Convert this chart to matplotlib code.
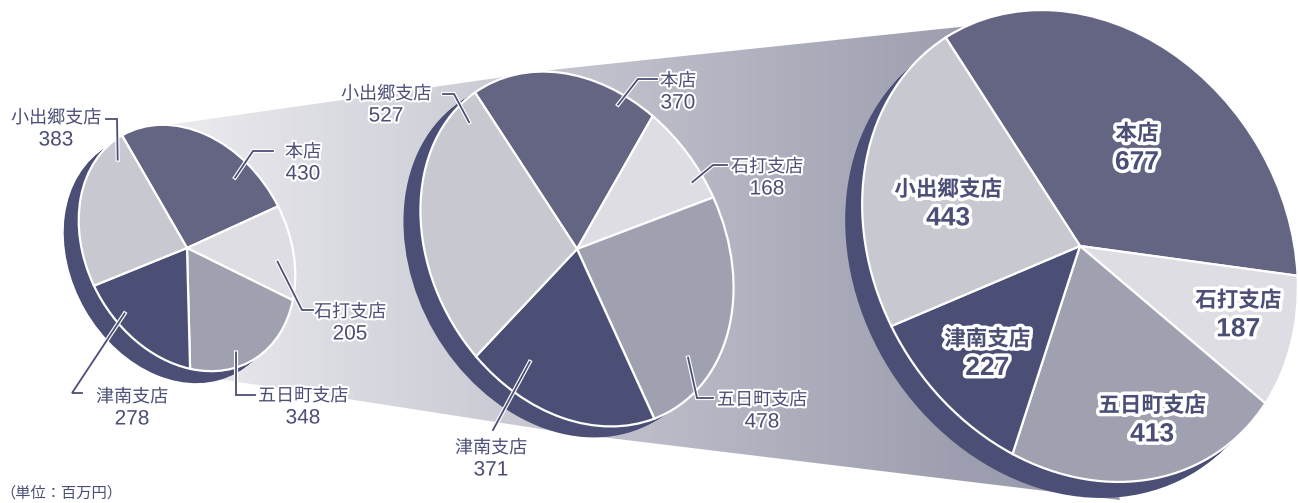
import numpy as np
import matplotlib
matplotlib.use("Agg")
import matplotlib.pyplot as plt
import matplotlib.patheffects as pe
from matplotlib.patches import Polygon, Circle
from matplotlib.transforms import Affine2D
from matplotlib.colors import LinearSegmentedColormap

plt.rcParams['font.family'] = ['Noto Sans CJK JP', 'DejaVu Sans']

W, H = 1298, 503

# 支店別売上（百万円）
branches = ["本店", "石打支店", "五日町支店", "津南支店", "小出郷支店"]
sales_1 = [430, 205, 348, 278, 383]
sales_2 = [370, 168, 478, 371, 527]
sales_3 = [677, 187, 413, 227, 443]

slice_colors = ["#636582", "#dddde3", "#a0a1b0", "#4b4f76", "#c7c8d0"]
side_color = "#4b4f76"
ink = "#4b4f76"

# tilted discs: centre (px from top-left), half axes, tilt, start angle, extrusion
geo_1 = dict(cx=187, cy=248, a=130, b=100, tilt=30, start=90, depth=(-15, 12))
geo_2 = dict(cx=577, cy=249, a=187, b=145, tilt=30, start=94, depth=(-17, 11))
geo_3 = dict(cx=1080, cy=246, a=248, b=204, tilt=32.8, start=90, depth=(-17, 16))

fig = plt.figure(figsize=(W / 100, H / 100), dpi=100)
ax = fig.add_axes([0, 0, 1, 1])


def disc(g):
    return Affine2D().scale(g['b'], g['a']).rotate_deg(g['tilt']).translate(g['cx'], H - g['cy'])


def slice_point(g, values, i, t, r):
    # t: position across slice i, r: fraction of the radius
    frac = np.cumsum([0] + list(values)) / sum(values)
    ang = np.radians(g['start'] - 360 * (frac[i] + t * (frac[i + 1] - frac[i])))
    return disc(g).transform((r * np.cos(ang), r * np.sin(ang)))


def draw_pie(values, g):
    base = disc(g)
    dx, dy = g['depth']
    for k in np.linspace(1, 0, 18):
        ax.add_patch(Circle((0, 0), 1, facecolor=side_color, edgecolor='none', zorder=1,
                            transform=base + Affine2D().translate(k * dx, -k * dy) + ax.transData))
    ax.pie(values, startangle=g['start'], counterclock=False, colors=slice_colors,
           labeldistance=None,
           wedgeprops=dict(transform=base + ax.transData, edgecolor='white',
                           linewidth=1.6, zorder=1))


halo = [pe.withStroke(linewidth=3, foreground='white')]
big_halo = [pe.withStroke(linewidth=5, foreground='white')]


def two_line(x, y, name, value, gap, name_size, num_size, weight, effects):
    ax.text(x, H - (y - gap / 2), name, ha='center', va='center', fontsize=name_size,
            color=ink, fontweight=weight, path_effects=effects, zorder=5)
    ax.text(x, H - (y + gap / 2), str(value), ha='center', va='center', fontsize=num_size,
            color=ink, fontweight=weight, family=['Liberation Sans'], path_effects=effects,
            zorder=5)


def outer_labels(values, g, text_xy, anchors, leaders):
    for i, name in enumerate(branches):
        sx, sy = slice_point(g, values, i, *anchors[i])
        (ex, ey), (fx, fy) = leaders[i]
        ax.plot([sx, ex, fx], [sy, H - ey, H - fy], color=ink, lw=1.3,
                solid_joinstyle='miter', path_effects=halo, zorder=4)
        x, y = text_xy[i]
        two_line(x, y, name, values[i], 22, 13, 15, 'normal', halo)


# connecting band, light to dark
band_pts = [(160, 126), (560, 69), (988, 24), (1120, 500), (560, 432), (200, 376)]
band = Polygon([(x, H - y) for x, y in band_pts], closed=True, facecolor='none',
               edgecolor='none')
ax.add_patch(band)
band_cmap = LinearSegmentedColormap.from_list(
    'band', [(0, '#ececf0'), (800 / 960, '#9d9eaf'), (1, '#9a9bac')])
im = ax.imshow(np.linspace(0, 1, 512)[None, :], extent=(160, 1120, 0, H), cmap=band_cmap,
               aspect='auto', zorder=0)
im.set_clip_path(band)

draw_pie(sales_1, geo_1)
draw_pie(sales_2, geo_2)
draw_pie(sales_3, geo_3)

outer_labels(sales_1, geo_1,
             [(303, 163), (350, 323), (303, 407), (132, 408), (56, 129)],
             [(0.74, 0.82), (0.61, 0.84), (0.62, 0.89), (0.69, 0.89), (0.875, 0.87)],
             [((253, 151), (273, 151)), ((302, 310), (313, 310)), ((236, 395), (255, 395)),
              ((72, 393), (82, 393)), ((117, 119), (106, 119))])

outer_labels(sales_2, geo_2,
             [(678, 92), (767, 178), (762, 411), (491, 459), (386, 105)],
             [(0.82, 0.93), (0.77, 0.92), (0.70, 0.85), (0.75, 0.78), (0.906, 0.90)],
             [((638, 79), (657, 79)), ((713, 165), (727, 165)), ((697, 398), (713, 398)),
              ((493, 430), (493, 430)), ((454, 94), (443, 94))])

# labels inside the largest pie
inside = [(0.537, 0.537), (0.457, 0.745), (0.428, 0.765), (0.483, 0.687), (0.45, 0.61)]
for i, name in enumerate(branches):
    x, y = slice_point(geo_3, sales_3, i, *inside[i])
    two_line(x, H - y, name, sales_3[i], 29, 15.5, 19, 'bold', big_halo)

ax.text(0, H - 493, "（単位：百万円）", ha='left', va='center', fontsize=11, color=ink)

ax.set_xlim(0, W)
ax.set_ylim(0, H)
ax.set_aspect('auto')
ax.axis('off')
fig.savefig('out.png', dpi=100)
